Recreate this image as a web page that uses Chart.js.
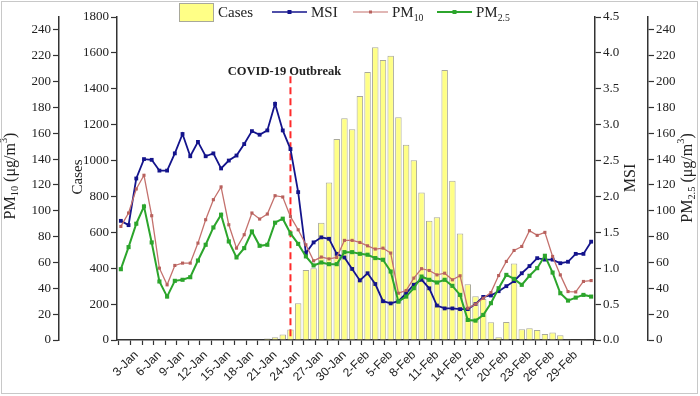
<!DOCTYPE html>
<html><head><meta charset="utf-8">
<script src="https://cdn.jsdelivr.net/npm/chart.js@4.4.0/dist/chart.umd.min.js"></script>
<style>html,body{margin:0;padding:0;background:#fff;}canvas{display:block;}</style>
</head><body>
<canvas id="c" width="700" height="396"></canvas>
<script>
// ---------------- DATA ----------------
const days = ['1-Jan','2-Jan','3-Jan','4-Jan','5-Jan','6-Jan','7-Jan','8-Jan','9-Jan','10-Jan',
 '11-Jan','12-Jan','13-Jan','14-Jan','15-Jan','16-Jan','17-Jan','18-Jan','19-Jan','20-Jan',
 '21-Jan','22-Jan','23-Jan','24-Jan','25-Jan','26-Jan','27-Jan','28-Jan','29-Jan','30-Jan','31-Jan',
 '1-Feb','2-Feb','3-Feb','4-Feb','5-Feb','6-Feb','7-Feb','8-Feb','9-Feb','10-Feb',
 '11-Feb','12-Feb','13-Feb','14-Feb','15-Feb','16-Feb','17-Feb','18-Feb','19-Feb','20-Feb',
 '21-Feb','22-Feb','23-Feb','24-Feb','25-Feb','26-Feb','27-Feb','28-Feb','29-Feb','1-Mar','2-Mar'];

const cases = [0,0,0,0,0,0,0,0,0,0,
 0,0,0,0,0,0,0,0,0,9,
 15,30,58,205,390,400,654,878,1120,1236,
 1174,1360,1494,1632,1560,1584,1241,1088,1002,822,
 664,684,1505,887,593,310,244,229,99,16,
 101,427,60,65,56,34,42,27,4,3,
 4,0];

const msi = [1.66,1.60,2.25,2.52,2.51,2.36,2.36,2.60,2.87,2.56,
 2.76,2.56,2.60,2.39,2.50,2.57,2.73,2.91,2.86,2.92,
 3.29,2.92,2.66,2.06,1.21,1.36,1.43,1.41,1.20,1.15,
 0.99,0.83,0.93,0.78,0.54,0.51,0.54,0.65,0.77,0.84,
 0.72,0.48,0.44,0.44,0.43,0.43,0.50,0.60,0.62,0.68,
 0.75,0.82,0.93,1.03,1.14,1.12,1.12,1.07,1.09,1.20,
 1.20,1.37];

const pm10 = [87.9,98.3,116.9,127.5,96.2,55.6,42.7,57.7,59.5,59.5,
 75.0,93.1,108.6,118.5,89.2,71.1,81.5,98.3,93.6,97.5,
 111.7,110.7,95.5,85.3,73.7,61.3,64.2,62.8,63.9,77.1,
 77.1,75.5,72.9,70.4,71.1,67.3,36.2,38.3,47.9,55.2,
 53.8,50.4,51.7,46.6,49.7,24.6,27.7,32.3,36.7,49.9,
 60.8,69.3,72.4,84.6,81.0,83.3,64.7,50.4,37.5,37.2,
 45.3,46.0];

const pm25 = [54.8,71.9,90.0,103.4,75.5,45.3,33.6,45.8,46.6,48.6,
 61.5,73.7,87.1,97.0,76.3,63.9,71.1,84.0,72.9,73.7,
 90.8,93.9,82.5,74.4,64.7,57.7,60.0,58.7,58.7,68.0,
 68.0,66.7,66.0,63.4,62.1,53.0,29.7,33.6,40.1,49.1,
 46.6,44.5,46.6,41.9,34.9,15.5,15.0,19.4,28.5,40.1,
 50.4,47.3,42.7,49.7,55.6,65.2,52.2,36.2,30.5,32.8,
 34.9,33.6];

const casesTicks = [0,200,400,600,800,1000,1200,1400,1600,1800];
const pmTicks = [0,20,40,60,80,100,120,140,160,180,200,220,240];
const msiTicks = [0,0.5,1.0,1.5,2.0,2.5,3.0,3.5,4.0,4.5];
const outbreakDay = 23;          // 23-Jan
const outbreakTop = 1470;        // top of the marker line, in cases units
const outbreakText = 'COVID-19 Outbreak';

// ---------------- CHART ----------------
const SERIF = "'Liberation Serif','Times New Roman',serif";
const SANS = "'Liberation Sans',Arial,sans-serif";
const TXT = '#222';
const AX = '#333';
const pts = arr => arr.map((v, i) => ({x: i + 1, y: v}));

function richWidth(ctx, parts, size) {
  let w = 0;
  for (const p of parts) {
    const s = (p.sub || p.sup) ? size * 0.65 : size;
    ctx.font = s + 'px ' + SERIF;
    w += ctx.measureText(p.t).width;
  }
  return w;
}
function richDraw(ctx, parts, x, y, size) {
  for (const p of parts) {
    const s = (p.sub || p.sup) ? size * 0.65 : size;
    ctx.font = s + 'px ' + SERIF;
    const dy = p.sub ? size * 0.28 : (p.sup ? -size * 0.42 : 0);
    ctx.fillText(p.t, x, y + dy);
    x += ctx.measureText(p.t).width;
  }
}
function vTitle(ctx, parts, cx, cy, size) {
  ctx.save();
  ctx.translate(cx, cy);
  ctx.rotate(-Math.PI / 2);
  const w = richWidth(ctx, parts, size);
  ctx.textBaseline = 'middle';
  ctx.textAlign = 'left';
  richDraw(ctx, parts, -w / 2, 0, size);
  ctx.restore();
}

const decor = {
  id: 'decor',
  beforeDraw(chart) {
    const c = chart.ctx;
    c.save(); c.fillStyle = '#fff'; c.fillRect(0, 0, chart.width, chart.height); c.restore();
  },
  afterDatasetDraw(chart, args) {
    if (chart.data.datasets[args.index].type !== 'bar') return;
    const {ctx, scales: {x, yCases}} = chart;
    const px = x.getPixelForValue(outbreakDay);
    ctx.save();
    ctx.strokeStyle = '#ff2a2a';
    ctx.lineWidth = 2;
    ctx.setLineDash([7, 4]);
    ctx.beginPath();
    ctx.moveTo(px, yCases.getPixelForValue(outbreakTop));
    ctx.lineTo(px, yCases.getPixelForValue(0));
    ctx.stroke();
    ctx.restore();
  },
  afterDraw(chart) {
    const {ctx, scales: {x, yCases}} = chart;
    ctx.save();
    ctx.fillStyle = TXT;
    ctx.font = 'bold 12.5px ' + SERIF;
    ctx.textAlign = 'center';
    ctx.textBaseline = 'alphabetic';
    ctx.fillText(outbreakText, x.getPixelForValue(outbreakDay) - 6, yCases.getPixelForValue(outbreakTop) - 1);

    vTitle(ctx, [{t:'PM'},{t:'10',sub:1},{t:' (\u03bcg/m'},{t:'3',sup:1},{t:')'}], 11, 176, 16);
    vTitle(ctx, [{t:'Cases'}], 78, 177, 15);
    vTitle(ctx, [{t:'MSI'}], 631, 178, 16);
    vTitle(ctx, [{t:'PM'},{t:'2.5',sub:1},{t:' (\u03bcg/m'},{t:'3',sup:1},{t:')'}], 688, 178, 16);

    ctx.textAlign = 'left';
    ctx.textBaseline = 'alphabetic';
    const ly = 12, lb = 17, fs = 15;
    ctx.fillStyle = '#ffff86'; ctx.strokeStyle = '#a8a89a'; ctx.lineWidth = 1;
    ctx.fillRect(179.5, 3.5, 34, 18); ctx.strokeRect(179.5, 3.5, 34, 18);
    ctx.fillStyle = TXT; richDraw(ctx, [{t:'Cases'}], 218, lb, fs);
    const items = [
      {x0: 272, x1: 307, col: '#14148c', pc: '#14148c', lw: 1.6, ps: 4, tx: 311, parts: [{t:'MSI'}]},
      {x0: 353, x1: 388, col: '#c4716d', pc: '#b8615d', lw: 1.2, ps: 3, tx: 392, parts: [{t:'PM'},{t:'10',sub:1}]},
      {x0: 437, x1: 472, col: '#2ca52c', pc: '#2ca52c', lw: 1.8, ps: 4, tx: 476, parts: [{t:'PM'},{t:'2.5',sub:1}]}
    ];
    for (const it of items) {
      ctx.strokeStyle = it.col; ctx.lineWidth = it.lw;
      ctx.beginPath(); ctx.moveTo(it.x0, ly); ctx.lineTo(it.x1, ly); ctx.stroke();
      ctx.fillStyle = it.pc;
      const cx = (it.x0 + it.x1) / 2;
      ctx.fillRect(cx - it.ps / 2, ly - it.ps / 2, it.ps, it.ps);
      ctx.fillStyle = TXT;
      richDraw(ctx, it.parts, it.tx, lb, fs);
    }
    ctx.strokeStyle = '#c8c8c8'; ctx.lineWidth = 1;
    ctx.strokeRect(1.5, 1.5, 696, 392);
    ctx.restore();
  }
};

const tickFont = {family: SERIF, size: 13};
function yScale(pos, weight, min, max, ticksArr, width, fmt) {
  return {
    type: 'linear', position: pos, weight: weight, min: min, max: max,
    grid: {display: true, drawOnChartArea: false, drawTicks: true, tickLength: 6, tickColor: AX, tickWidth: 1.2},
    border: {display: true, color: AX, width: 1.5},
    ticks: {font: tickFont, color: TXT, padding: 2, callback: fmt || (v => v)},
    afterBuildTicks: s => { s.ticks = ticksArr.map(v => ({value: v})); },
    afterFit: s => { s.width = width; }
  };
}

new Chart(document.getElementById('c'), {
  type: 'bar',
  data: {
    datasets: [
      {type: 'line', label: 'PM2.5', data: pts(pm25), yAxisID: 'yPM25', borderColor: '#2ca52c', backgroundColor: '#2ca52c',
       borderWidth: 2, pointStyle: 'rect', pointRadius: 2.9, pointBorderWidth: 0, tension: 0, order: 1},
      {type: 'line', label: 'PM10', data: pts(pm10), yAxisID: 'yPM10', borderColor: '#c4716d', backgroundColor: '#b8615d',
       borderWidth: 1.3, pointStyle: 'rect', pointRadius: 2.2, pointBorderWidth: 0, tension: 0, order: 2},
      {type: 'line', label: 'MSI', data: pts(msi), yAxisID: 'yMSI', borderColor: '#14148c', backgroundColor: '#14148c',
       borderWidth: 1.8, pointStyle: 'rect', pointRadius: 2.7, pointBorderWidth: 0, tension: 0, order: 3},
      {type: 'bar', label: 'Cases', data: pts(cases), yAxisID: 'yCases', backgroundColor: '#ffff86', borderColor: '#a9a99b',
       borderWidth: 1, barPercentage: 0.84, categoryPercentage: 1, borderSkipped: 'start', order: 4}
    ]
  },
  options: {
    responsive: false, animation: false, devicePixelRatio: 1,
    layout: {padding: {top: 17, left: 2, right: 3, bottom: 3}},
    plugins: {legend: {display: false}, tooltip: {enabled: false}},
    scales: {
      x: {
        type: 'linear', position: 'bottom', min: 0.5, max: 62.5, offset: false,
        grid: {display: true, drawOnChartArea: false, drawTicks: true, tickLength: 5, tickColor: AX, tickWidth: 1.2},
        border: {display: true, color: AX, width: 1.5},
        ticks: {font: {family: SANS, size: 12}, color: TXT, autoSkip: false, maxRotation: 45, minRotation: 45, padding: 3,
          callback: v => { const d = Math.round(v); return (Math.abs(v - d) < 1e-6 && d % 3 === 0) ? days[d - 1] : ''; }},
        afterBuildTicks: s => { const t = []; for (let k = 1; k <= 41; k++) t.push({value: k * 1.5}); s.ticks = t; },
        afterFit: s => { s.height = 53; }
      },
      yCases: yScale('left', 1, 0, 1800, casesTicks, 58),
      yPM10: yScale('left', 2, 0, 250, pmTicks, 57),
      yMSI: yScale('right', 1, 0, 4.5, msiTicks, 53, v => v.toFixed(1)),
      yPM25: yScale('right', 2, 0, 250, pmTicks, 49)
    }
  },
  plugins: [decor]
});
</script>
</body></html>
